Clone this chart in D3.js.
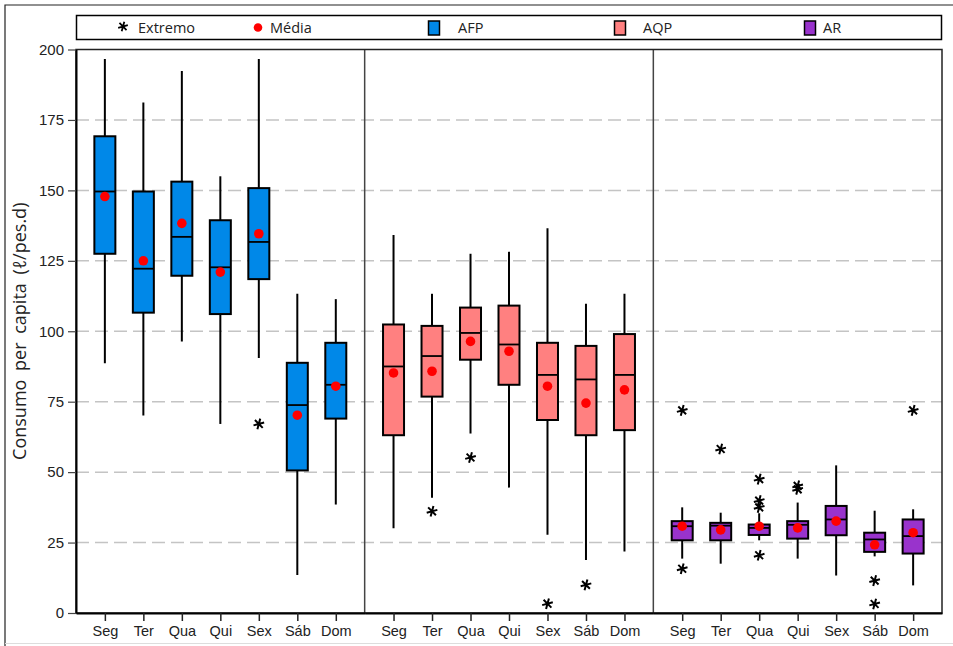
<!DOCTYPE html>
<html><head><meta charset="utf-8">
<script src="https://cdn.jsdelivr.net/npm/d3@7"></script>
<style>body{margin:0;background:#fff}svg{display:block;font-family:"Open Sans","Noto Sans",sans-serif}</style>
</head><body>
<script>
const days = ["Seg","Ter","Qua","Qui","Sex","Sáb","Dom"];
const groups = ["AFP","AQP","AR"];
const colors = ["#0088e8","#ff8080","#9933cc"];
const yTicks = [0,25,50,75,100,125,150,175,200];

const afpLow  = [88.6, 70.1, 96.4, 67.1, 90.5, 13.5, 38.5];
const afpQ1   = [127.5,106.6,119.7,106.1,118.5,50.6, 69.0];
const afpMed  = [149.6,122.2,133.5,122.7,131.7,73.8, 81.0];
const afpQ3   = [169.2,149.6,153.1,139.4,150.8,88.8, 95.9];
const afpHigh = [196.6,181.2,192.4,155.0,196.6,113.3,111.4];
const afpMean = [147.8,125.0,138.3,121.0,134.6,70.2, 80.5];
const afpOut  = [[],[],[],[],[67.1],[],[]];

const aqpLow  = [30.1, 40.9, 63.7, 44.5, 27.8, 18.8, 21.8];
const aqpQ1   = [63.1, 76.8, 89.9, 81.0, 68.5, 63.1, 64.9];
const aqpMed  = [87.5, 91.2, 99.4, 95.3, 84.5, 82.9, 84.5];
const aqpQ3   = [102.4,101.9,108.4,109.1,95.9, 94.8, 99.0];
const aqpHigh = [134.2,113.3,127.5,128.2,136.6,109.8,113.3];
const aqpMean = [85.2, 85.8, 96.4, 92.9, 80.5, 74.5, 79.2];
const aqpOut  = [[],[36.1],[55.2],[],[3.3],[10.0],[]];

const arLow  = [19.3, 17.5, 25.8, 19.3, 13.3, 20.1, 9.8];
const arQ1   = [25.8, 25.8, 27.7, 26.4, 27.6, 21.7, 21.1];
const arMed  = [30.8, 31.0, 30.2, 31.3, 33.2, 26.1, 27.3];
const arQ3   = [32.6, 32.0, 31.4, 32.6, 38.0, 28.5, 33.2];
const arHigh = [37.5, 35.6, 35.4, 39.2, 52.4, 36.3, 36.8];
const arMean = [30.8, 29.5, 30.8, 30.2, 32.6, 24.2, 28.5];
const arOut  = [[71.9,15.7],[58.2],[47.5,39.9,37.5,20.5],[45.1,43.9],[],[11.5,3.2],[71.9]];

const series = [
  {low:afpLow,q1:afpQ1,med:afpMed,q3:afpQ3,high:afpHigh,mean:afpMean,out:afpOut},
  {low:aqpLow,q1:aqpQ1,med:aqpMed,q3:aqpQ3,high:aqpHigh,mean:aqpMean,out:aqpOut},
  {low:arLow,q1:arQ1,med:arMed,q3:arQ3,high:arHigh,mean:arMean,out:arOut}
];

const W = 953, H = 646;
const L = 76, R = 942, T = 49.5, B = 613;
const svg = d3.select("body").append("svg").attr("width",W).attr("height",H);

// outer frame
svg.append("path").attr("d",`M5,${H}V5H${W}`).attr("fill","none").attr("stroke","#222").attr("stroke-width",1.2);
svg.append("line").attr("x1",5).attr("x2",W).attr("y1",643.5).attr("y2",643.5).attr("stroke","#ddd").attr("stroke-width",1);

const y = d3.scaleLinear().domain([0,200]).range([B,T]);
const panel = d3.scaleBand().domain(groups).range([L,R]).padding(0);
const x = d3.scalePoint().domain(days).range([0,panel.bandwidth()]).padding(0.75);
const bw = 21;

// gridlines
svg.append("g").selectAll("line").data(yTicks.filter(v=>v>0&&v<200)).join("line")
  .attr("x1",L).attr("x2",R).attr("y1",d=>y(d)).attr("y2",d=>y(d))
  .attr("stroke","#c4c4c4").attr("stroke-width",1.5).attr("stroke-dasharray","13,6");

// panel separators
svg.append("g").selectAll("line").data(groups.slice(1)).join("line")
  .attr("x1",d=>panel(d)).attr("x2",d=>panel(d)).attr("y1",T).attr("y2",B)
  .attr("stroke","#444").attr("stroke-width",1.5);

// plot frame
svg.append("rect").attr("x",L).attr("y",T).attr("width",R-L).attr("height",B-T)
  .attr("fill","none").attr("stroke","#222").attr("stroke-width",1.5);

// y axis
const yAxis = svg.append("g").attr("transform",`translate(${L},0)`)
  .call(d3.axisLeft(y).tickValues(yTicks).tickSize(8).tickSizeOuter(0).tickPadding(4));
yAxis.select(".domain").attr("stroke","#000").attr("stroke-width",2);
yAxis.selectAll(".tick line").attr("stroke","#444").attr("stroke-width",1.2);
yAxis.selectAll(".tick text").attr("font-size",15).attr("fill","#222");

// x axes per panel
groups.forEach(g=>{
  const ax = svg.append("g").attr("transform",`translate(${panel(g)},${B})`)
    .call(d3.axisBottom(x).tickSize(8).tickSizeOuter(0).tickPadding(5));
  ax.select(".domain").attr("stroke","#000").attr("stroke-width",2);
  ax.selectAll(".tick line").attr("stroke","#222").attr("stroke-width",1.5);
  ax.selectAll(".tick text").attr("font-size",14.5).attr("fill","#222");
});

const star = d3.symbol().type(d3.symbolAsterisk).size(85);

// boxes
groups.forEach((g,gi)=>{
  const s = series[gi];
  const gg = svg.append("g").attr("transform",`translate(${panel(g)},0)`);
  days.forEach((d,i)=>{
    const cx = x(d);
    gg.append("line").attr("x1",cx).attr("x2",cx).attr("y1",y(s.low[i])).attr("y2",y(s.high[i]))
      .attr("stroke","#000").attr("stroke-width",2);
    gg.append("rect").attr("x",cx-bw/2).attr("y",y(s.q3[i])).attr("width",bw)
      .attr("height",y(s.q1[i])-y(s.q3[i])).attr("fill",colors[gi]).attr("stroke","#000").attr("stroke-width",2);
    gg.append("line").attr("x1",cx-bw/2).attr("x2",cx+bw/2).attr("y1",y(s.med[i])).attr("y2",y(s.med[i]))
      .attr("stroke","#000").attr("stroke-width",1.8);
    gg.append("circle").attr("cx",cx).attr("cy",y(s.mean[i])).attr("r",4.8).attr("fill","#ff0000");
    s.out[i].forEach(v=>{
      gg.append("path").attr("d",star).attr("transform",`translate(${cx},${y(v)}) rotate(15)`)
        .attr("fill","none").attr("stroke","#000").attr("stroke-width",2);
    });
  });
});

// y label
svg.append("text").attr("transform",`translate(26,${(T+B)/2}) rotate(-90)`)
  .attr("text-anchor","middle").attr("font-size",18).attr("fill","#222").attr("word-spacing",4)
  .text("Consumo per capita (ℓ/pes.d)");

// legend
const lg = svg.append("g");
lg.append("rect").attr("x",76.5).attr("y",15.5).attr("width",865).attr("height",24)
  .attr("fill","#fff").attr("stroke","#000").attr("stroke-width",1.5);
const ly = 27.5;
lg.append("path").attr("d",d3.symbol().type(d3.symbolAsterisk).size(70)).attr("transform",`translate(123,${ly-1}) rotate(15)`)
  .attr("fill","none").attr("stroke","#000").attr("stroke-width",1.8);
lg.append("text").attr("x",138).attr("y",ly+5).attr("font-size",14.5).attr("fill","#222").text("Extremo");
lg.append("circle").attr("cx",258).attr("cy",ly).attr("r",4.3).attr("fill","#ff0000");
lg.append("text").attr("x",270).attr("y",ly+5).attr("font-size",14.5).attr("fill","#222").text("Média");
const lx = [434, 620, 810];
const ltx = [458, 643, 823];
groups.forEach((g,gi)=>{
  lg.append("rect").attr("x",lx[gi]-5.5).attr("y",ly-6.5).attr("width",11).attr("height",14)
    .attr("fill",colors[gi]).attr("stroke","#000").attr("stroke-width",1.5);
  lg.append("text").attr("x",ltx[gi]).attr("y",ly+5).attr("font-size",14.5).attr("fill","#222").text(g);
});
</script>
</body></html>
